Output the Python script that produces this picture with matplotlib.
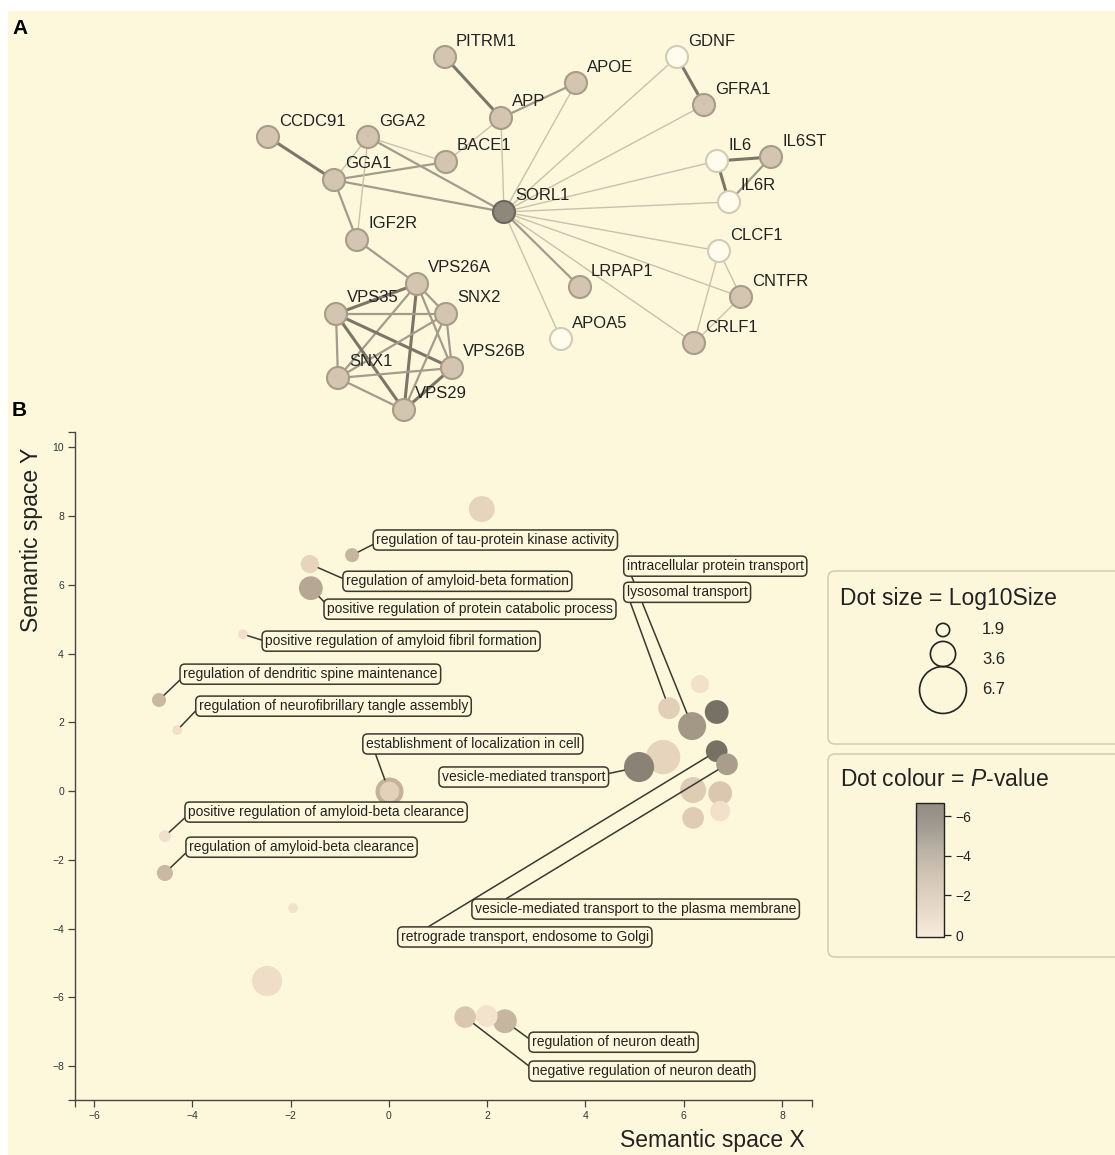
import matplotlib
matplotlib.use("Agg")
import matplotlib.pyplot as plt
from matplotlib.patches import Circle, FancyBboxPatch, Rectangle
from matplotlib.colors import LinearSegmentedColormap, Normalize
from matplotlib.cm import ScalarMappable

plt.rcParams["font.family"] = ["Liberation Sans", "DejaVu Sans"]
plt.rcParams["mathtext.fontset"] = "custom"
plt.rcParams["mathtext.it"] = "Liberation Sans:italic"
plt.rcParams["mathtext.rm"] = "Liberation Sans"

# ---- panel A: interaction network (layout in pixels of the figure) ----
gene_names = ["SORL1", "APP", "PITRM1", "APOE", "BACE1", "GGA1", "GGA2", "CCDC91",
              "IGF2R", "VPS26A", "VPS35", "SNX2", "VPS26B", "SNX1", "VPS29", "LRPAP1",
              "APOA5", "GDNF", "GFRA1", "IL6", "IL6ST", "IL6R", "CLCF1", "CNTFR", "CRLF1"]
gene_x = [504, 501, 445, 576, 446, 334, 368, 268, 357, 417, 336, 446, 452, 338, 404, 580,
          561, 677, 704, 717, 771, 729, 719, 741, 694]
gene_y = [212, 118, 57, 83, 162, 180, 137, 137, 240, 284, 314, 314, 368, 378, 410, 287,
          339, 57, 105, 161, 157, 202, 251, 297, 343]
# 0 = query protein, 1 = first shell, 2 = second shell
gene_shell = [0, 1, 1, 1, 1, 1, 1, 1, 1, 1, 1, 1, 1, 1, 1, 1,
              2, 2, 1, 2, 1, 2, 2, 1, 1]
# (a, b, confidence 1..3)
links = [
    ("SORL1", "APP", 1), ("SORL1", "APOE", 1), ("SORL1", "GGA1", 2), ("SORL1", "GGA2", 2),
    ("SORL1", "GDNF", 1), ("SORL1", "GFRA1", 1), ("SORL1", "IL6", 1), ("SORL1", "IL6R", 1),
    ("SORL1", "CLCF1", 1), ("SORL1", "CNTFR", 1), ("SORL1", "CRLF1", 1), ("SORL1", "LRPAP1", 2),
    ("SORL1", "APOA5", 1), ("APP", "PITRM1", 3), ("APP", "APOE", 2), ("APP", "BACE1", 1),
    ("GGA1", "CCDC91", 3), ("GGA1", "GGA2", 1), ("GGA1", "BACE1", 2), ("GGA2", "BACE1", 1),
    ("GGA1", "IGF2R", 2), ("GGA2", "IGF2R", 1), ("IGF2R", "VPS26A", 2),
    ("VPS26A", "VPS35", 3), ("VPS26A", "SNX2", 2), ("VPS26A", "VPS26B", 2), ("VPS26A", "SNX1", 2),
    ("VPS26A", "VPS29", 3), ("VPS35", "SNX2", 2), ("VPS35", "VPS26B", 3), ("VPS35", "SNX1", 2),
    ("VPS35", "VPS29", 3), ("SNX2", "VPS26B", 2), ("SNX2", "SNX1", 2), ("SNX2", "VPS29", 2),
    ("VPS26B", "SNX1", 2), ("VPS26B", "VPS29", 3), ("SNX1", "VPS29", 2),
    ("GDNF", "GFRA1", 3), ("IL6", "IL6ST", 3), ("IL6", "IL6R", 3), ("IL6ST", "IL6R", 2),
    ("CLCF1", "CNTFR", 1), ("CLCF1", "CRLF1", 1), ("CNTFR", "CRLF1", 1),
]

# ---- panel B: semantic space of enriched GO terms ----
go_x = [1.89, -0.75, -1.61, -1.59, -2.97, -4.68, -4.31, 0.00, -4.56, -4.56, -1.95, -2.48,
        1.55, 1.99, 2.36, 6.33, 5.70, 6.17, 6.67, 5.58, 5.09, 6.67, 6.88, 6.19, 6.74, 6.74, 6.19]
go_y = [8.20, 6.86, 6.60, 5.90, 4.56, 2.65, 1.77, 0.00, -1.31, -2.38, -3.40, -5.52,
        -6.57, -6.54, -6.69, 3.11, 2.41, 1.89, 2.30, 0.99, 0.70, 1.16, 0.78, 0.03, -0.06, -0.58, -0.78]
go_log10size = [3.7, 2.0, 2.6, 3.4, 1.4, 2.0, 1.4, 3.4, 1.7, 2.3, 1.4, 4.3,
                3.1, 3.1, 3.4, 2.6, 3.1, 4.0, 3.4, 4.9, 4.3, 3.1, 3.1, 3.7, 3.4, 2.9, 3.1]
go_log10p = [-1.0, -3.0, -1.0, -3.8, -0.3, -2.8, -0.3, -1.2, -0.3, -2.8, -0.2, -0.5,
             -1.8, -0.2, -3.0, -0.3, -1.3, -4.6, -6.3, -1.0, -5.4, -6.3, -4.3, -1.5, -1.8, -0.3, -1.5]
go_labels = ["", "regulation of tau-protein kinase activity", "regulation of amyloid-beta formation",
             "positive regulation of protein catabolic process",
             "positive regulation of amyloid fibril formation",
             "regulation of dendritic spine maintenance",
             "regulation of neurofibrillary tangle assembly",
             "establishment of localization in cell",
             "positive regulation of amyloid-beta clearance",
             "regulation of amyloid-beta clearance", "", "",
             "negative regulation of neuron death", "", "regulation of neuron death", "",
             "lysosomal transport", "intracellular protein transport", "", "",
             "vesicle-mediated transport", "retrograde transport, endosome to Golgi",
             "vesicle-mediated transport to the plasma membrane", "", "", "", ""]
legend_sizes = [1.9, 3.6, 6.7]
cbar_ticks = [-6, -4, -2, 0]

# where each label box sits (data units) and where its leader leaves the box
label_place = {
    "regulation of tau-protein kinase activity": (-0.26, 7.30, (0, 0.3)),
    "regulation of amyloid-beta formation": (-0.875, 6.10, (0, 0.6)),
    "positive regulation of protein catabolic process": (-1.26, 5.29, (0, 0.8)),
    "positive regulation of amyloid fibril formation": (-2.52, 4.36, (0, 0.5)),
    "regulation of dendritic spine maintenance": (-4.19, 3.40, (0, 0.3)),
    "regulation of neurofibrillary tangle assembly": (-3.87, 2.47, (0, 0.4)),
    "establishment of localization in cell": (-0.47, 1.37, (0.04, 0)),
    "vesicle-mediated transport": (1.08, 0.41, (1, 0.7)),
    "positive regulation of amyloid-beta clearance": (-4.09, -0.61, (0, 0.3)),
    "regulation of amyloid-beta clearance": (-4.07, -1.63, (0, 0.3)),
    "intracellular protein transport": (4.84, 6.54, (0.02, 0)),
    "lysosomal transport": (4.84, 5.78, (0.02, 0)),
    "vesicle-mediated transport to the plasma membrane": (1.75, -3.43, (0.08, 1)),
    "retrograde transport, endosome to Golgi": (0.24, -4.24, (0.09, 1)),
    "regulation of neuron death": (2.91, -7.30, (0, 0.6)),
    "negative regulation of neuron death": (2.91, -8.14, (0, 0.7)),
}
label_order = ["regulation of tau-protein kinase activity", "regulation of amyloid-beta formation",
               "positive regulation of protein catabolic process",
               "positive regulation of amyloid fibril formation",
               "regulation of dendritic spine maintenance",
               "regulation of neurofibrillary tangle assembly",
               "establishment of localization in cell", "vesicle-mediated transport",
               "positive regulation of amyloid-beta clearance",
               "regulation of amyloid-beta clearance", "intracellular protein transport",
               "lysosomal transport", "vesicle-mediated transport to the plasma membrane",
               "retrograde transport, endosome to Golgi", "regulation of neuron death",
               "negative regulation of neuron death"]

CREAM = "#FDF8DC"
INK = "#222222"
BOX = "#3b382e"

fig = plt.figure(figsize=(11.15, 11.55), dpi=100)
fig.patch.set_facecolor("white")

# full-figure axes in pixel units, used for panel A and the legends
ax = fig.add_axes([0, 0, 1, 1])
ax.set_xlim(0, 1115)
ax.set_ylim(1155, 0)
ax.axis("off")
ax.add_patch(Rectangle((8, 11), 1115, 1155, fc=CREAM, ec="none", zorder=-10))

pos = {n: (x, y) for n, x, y in zip(gene_names, gene_x, gene_y)}
link_style = {1: ("#c9c1ad", 1.0), 2: ("#a39b8b", 1.6), 3: ("#7c7568", 2.2)}
for a, b, w in links:
    col, lw = link_style[w]
    ax.plot([pos[a][0], pos[b][0]], [pos[a][1], pos[b][1]], color=col, lw=lw,
            solid_capstyle="round", zorder=1)

node_style = {0: ("#8e887b", "#6c675d"), 1: ("#d3c5b0", "#a89c88"), 2: ("#fffcee", "#d3cbb3")}
for n, x, y, s in zip(gene_names, gene_x, gene_y, gene_shell):
    fc, ec = node_style[s]
    ax.add_patch(Circle((x, y), 11, fc=fc, ec=ec, lw=1.5, zorder=2))
    ax.text(x + 11, y - 16, n, fontsize=12, color=INK, ha="left", va="center", zorder=3)

ax.text(12, 28, "A", fontsize=15, fontweight="bold", ha="left", va="center")
ax.text(12, 410, "B", fontsize=15, fontweight="bold", ha="left", va="center")

# ---- panel B ----
bx = fig.add_axes([75 / 1115, 1 - 1100 / 1155, 737 / 1115, 668 / 1155])
bx.set_facecolor("none")
xlim = (-6.39, 8.61)
ylim = (-8.98, 10.44)
bx.set_xlim(*xlim)
bx.set_ylim(*ylim)

cmap = LinearSegmentedColormap.from_list(
    "revigo", [(0.0, "#6e675c"), (0.10, "#777064"), (0.23, "#8a8275"), (0.357, "#a69a88"),
               (0.571, "#c6b59f"), (0.743, "#dac7b0"), (0.857, "#e7d4bd"), (1.0, "#f6e5d0")])
norm = Normalize(vmin=-7, vmax=0)


def px_radius(v):
    return 3.5 * v


def area(v):
    return (2 * px_radius(v) * 0.72) ** 2


order = sorted(range(len(go_x)), key=lambda i: -go_log10size[i])
for i in order:
    ring = go_labels[i] == "establishment of localization in cell"
    bx.scatter(go_x[i], go_y[i], s=area(go_log10size[i]), c=[cmap(norm(go_log10p[i]))],
               edgecolors="#c4b29a" if ring else "none", linewidths=3 if ring else 0, zorder=2)

for lab in label_order:
    i = go_labels.index(lab)
    lx, ly, rp = label_place[lab]
    bx.annotate(lab, xy=(go_x[i], go_y[i]), xytext=(lx, ly), textcoords="data",
                ha="left", va="center", fontsize=10, color=INK, zorder=4,
                bbox=dict(boxstyle="round,pad=0.22,rounding_size=0.35", fc=CREAM, ec=BOX, lw=1.1),
                arrowprops=dict(arrowstyle="-", color=BOX, lw=1.1, relpos=rp,
                                shrinkA=0, shrinkB=px_radius(go_log10size[i]) * 0.72))

for side in ["top", "right"]:
    bx.spines[side].set_visible(False)
for side in ["left", "bottom"]:
    bx.spines[side].set_color("#444444")
    bx.spines[side].set_linewidth(1.0)
bx.set_xticks(range(-6, 9, 2))
bx.set_yticks(range(-8, 11, 2))
bx.set_xticks(list(xlim), minor=True)
bx.set_yticks(list(ylim), minor=True)
bx.tick_params(which="both", length=5, width=0.9, color="#444444", labelsize=7.5,
               labelcolor="#333333", pad=3)

fig.text(32 / 1115, 1 - 540 / 1155, "Semantic space Y", rotation=90, fontsize=16.5,
         color=INK, ha="center", va="center")
fig.text(805 / 1115, 1 - 1140 / 1155, "Semantic space X", fontsize=16.5,
         color=INK, ha="right", va="center")

# ---- legends ----
for y0, y1 in [(571, 744), (754, 957)]:
    ax.add_patch(FancyBboxPatch((828, y0), 300, y1 - y0,
                                boxstyle="round,pad=0,rounding_size=7",
                                fc="#fcf7da", ec="#d6cfb1", lw=1.2, zorder=1))

ax.text(840, 598, "Dot size = Log10Size", fontsize=16.5, color=INK, ha="left", va="center")
leg_y = [630, 654, 690]
for v, y in zip(legend_sizes, leg_y):
    ax.scatter(943, y, s=area(v), facecolors="none", edgecolors=INK, linewidths=1.2, zorder=3)
for v, y in zip(legend_sizes, [630, 660, 690]):
    ax.text(982, y, f"{v}", fontsize=12, color=INK, ha="left", va="center")

ax.text(840, 779, "Dot colour = $P$-value", fontsize=16.5, color=INK, ha="left", va="center")

cax = fig.add_axes([916 / 1115, 1 - 937 / 1155, 28 / 1115, 134 / 1155])
sm = ScalarMappable(norm=Normalize(vmin=-6.66, vmax=0.1), cmap=cmap)
cb = fig.colorbar(sm, cax=cax, ticks=cbar_ticks)
cb.solids.set_alpha(0.75)
cax.invert_yaxis()
cb.outline.set_linewidth(1.0)
cb.outline.set_edgecolor(INK)
cax.tick_params(length=5, width=0.9, labelsize=10, color=INK, labelcolor=INK)

fig.savefig("out.png", dpi=100, facecolor=fig.get_facecolor())
